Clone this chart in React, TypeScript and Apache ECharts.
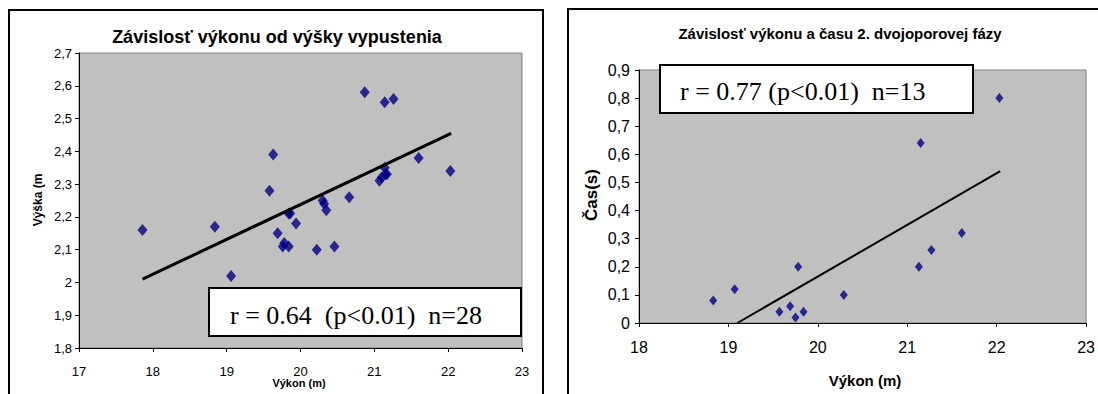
import { useEffect, useRef } from 'react';
import * as echarts from 'echarts';

// Left chart: performance vs release height
const leftPower = [17.86, 18.84, 19.06, 19.63, 19.58, 20.87, 21.14, 21.26, 21.6, 22.03, 21.14, 21.15, 21.07, 20.66, 20.3, 20.35, 19.84, 19.94, 19.69, 19.76, 19.84, 20.22, 20.46, 21.1, 21.17, 19.78, 20.32, 19.86];
const leftHeight = [2.16, 2.17, 2.02, 2.39, 2.28, 2.58, 2.55, 2.56, 2.38, 2.34, 2.35, 2.33, 2.31, 2.26, 2.25, 2.22, 2.21, 2.18, 2.15, 2.11, 2.11, 2.1, 2.11, 2.32, 2.33, 2.12, 2.24, 2.21];
const leftTrendX = [17.86, 22.04];
const leftTrendY = [2.01, 2.455];

// Right chart: performance vs time of 2nd double-support phase
const rightPower = [18.83, 19.07, 19.57, 19.69, 19.75, 19.78, 19.84, 20.29, 21.13, 21.15, 21.27, 21.61, 22.03];
const rightTime = [0.08, 0.12, 0.04, 0.06, 0.02, 0.2, 0.04, 0.1, 0.2, 0.64, 0.26, 0.32, 0.8];
const rightTrendX = [19.1, 22.04];
const rightTrendY = [0.0, 0.54];

const leftTitle = 'Závislosť výkonu od výšky vypustenia';
const rightTitle = 'Závislosť výkonu a času 2. dvojoporovej fázy';
const leftXName = 'Výkon (m)';
const leftYName = 'Výška (m';
const rightXName = 'Výkon (m)';
const rightYName = 'Čas(s)';
const leftStat = 'r = 0.64  (p<0.01)  n=28';
const rightStat = 'r = 0.77 (p<0.01)  n=13';

const SANS = '"Liberation Sans", Arial, sans-serif';
const SERIF = '"Liberation Serif", "Times New Roman", serif';

const fmt = (v: number) => String(Math.round(v * 10) / 10).replace('.', ',');

const zip = (a: number[], b: number[]) => a.map((x, i) => [x, b[i]]);

function axisCommon(fontSize: number, margin: number) {
  return {
    type: 'value' as const,
    axisLine: { show: true, onZero: false, lineStyle: { color: '#000', width: 1 } },
    axisTick: { show: true, inside: false, length: 4, lineStyle: { color: '#000', width: 1 } },
    axisLabel: { margin, fontSize, color: '#000', fontFamily: SANS, formatter: fmt },
    splitLine: { show: false },
  };
}

function txt(text: string, x: number, y: number, font: string, align = 'center', rotation = 0) {
  return {
    type: 'text',
    x,
    y,
    rotation,
    z: 100,
    style: {
      text,
      font,
      fill: '#000',
      textAlign: align,
      textVerticalAlign: 'middle',
      align,
      verticalAlign: 'middle',
    },
  };
}

export default function App() {
  const ref = useRef<HTMLDivElement>(null);
  useEffect(() => {
    const chart = echarts.init(ref.current!, null, { renderer: 'svg' });
    chart.setOption({
      animation: false,
      backgroundColor: '#fff',
      grid: [
        { left: 79, top: 53, width: 443, height: 295, show: true, backgroundColor: '#c0c0c0', borderColor: '#808080', borderWidth: 1 },
        { left: 639, top: 70, width: 448, height: 253, show: true, backgroundColor: '#c0c0c0', borderColor: '#808080', borderWidth: 1 },
      ],
      xAxis: [
        { ...axisCommon(13, 17), gridIndex: 0, min: 17, max: 23, interval: 1 },
        { ...axisCommon(16, 16), gridIndex: 1, min: 18, max: 23, interval: 1 },
      ],
      yAxis: [
        { ...axisCommon(13, 7), gridIndex: 0, min: 1.8, max: 2.7, interval: 0.1 },
        { ...axisCommon(16, 9), gridIndex: 1, min: 0, max: 0.9, interval: 0.1 },
      ],
      series: [
        {
          type: 'scatter', xAxisIndex: 0, yAxisIndex: 0, data: zip(leftPower, leftHeight),
          symbol: 'diamond', symbolSize: [10, 12], itemStyle: { color: '#000080' }, z: 2,
        },
        {
          type: 'line', xAxisIndex: 0, yAxisIndex: 0, data: zip(leftTrendX, leftTrendY),
          showSymbol: false, symbol: 'none', lineStyle: { color: '#000', width: 3 }, z: 3,
        },
        {
          type: 'scatter', xAxisIndex: 1, yAxisIndex: 1, data: zip(rightPower, rightTime),
          symbol: 'diamond', symbolSize: [8, 10], itemStyle: { color: '#000080' }, z: 2,
        },
        {
          type: 'line', xAxisIndex: 1, yAxisIndex: 1, data: zip(rightTrendX, rightTrendY),
          showSymbol: false, symbol: 'none', lineStyle: { color: '#000', width: 2 }, z: 3,
        },
      ],
      graphic: [
        { type: 'rect', z: 100, shape: { x: 9, y: 10, width: 534, height: 400 }, style: { fill: 'none', stroke: '#000', lineWidth: 2 } },
        { type: 'rect', z: 100, shape: { x: 568, y: 9, width: 600, height: 400 }, style: { fill: 'none', stroke: '#000', lineWidth: 2 } },
        txt(leftTitle, 277, 37, `bold 18px ${SANS}`),
        txt(rightTitle, 840, 33, `bold 15px ${SANS}`),
        txt(leftXName, 299, 383, `bold 11px ${SANS}`),
        txt(rightXName, 865, 380, `bold 15px ${SANS}`),
        txt(leftYName, 38, 200, `bold 12px ${SANS}`, 'center', Math.PI / 2),
        txt(rightYName, 591, 195, `bold 17px ${SANS}`, 'center', Math.PI / 2),
        { type: 'rect', z: 100, shape: { x: 209, y: 288, width: 312, height: 48 }, style: { fill: '#fff', stroke: '#000', lineWidth: 2 } },
        txt(leftStat, 230, 315, `26px ${SERIF}`, 'left'),
        { type: 'rect', z: 100, shape: { x: 660, y: 65, width: 313, height: 48 }, style: { fill: '#fff', stroke: '#000', lineWidth: 2 } },
        txt(rightStat, 680, 91, `26px ${SERIF}`, 'left'),
      ],
    });
    return () => chart.dispose();
  }, []);
  return (
    <div
      ref={ref}
      style={{ position: 'absolute', left: 0, top: 0, width: 1098, height: 394, background: '#fff' }}
    />
  );
}
